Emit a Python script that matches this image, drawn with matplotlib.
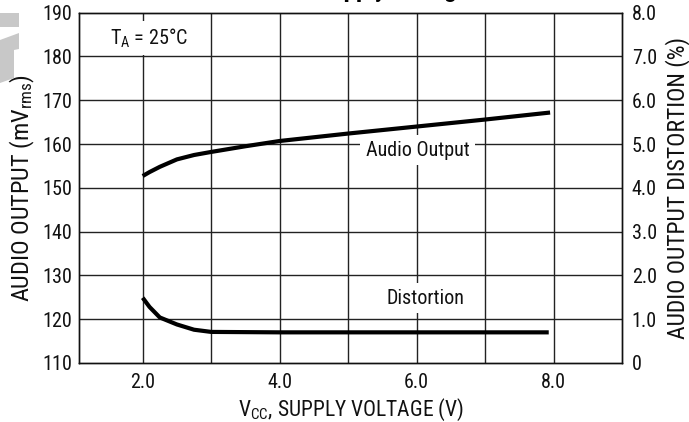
import matplotlib
matplotlib.use("Agg")
import matplotlib.pyplot as plt
from matplotlib import font_manager
from matplotlib.patches import Polygon, Rectangle

# pick a condensed face if one is installed
narrow_path = None
for f in font_manager.fontManager.ttflist:
    nm = f.name.lower()
    fn = f.fname.lower()
    if ('narrow' in nm or 'condensed' in nm or 'condensed' in fn or 'narrow' in fn) \
            and f.style == 'normal' and f.weight in (400, 'normal', 'regular'):
        narrow_path = f.fname
        if 'liberation' in nm:
            break

if narrow_path is not None:
    prop_name = font_manager.FontProperties(fname=narrow_path).get_name()
    plt.rcParams['font.family'] = [prop_name, 'DejaVu Sans']
    FS = 14.5
else:
    plt.rcParams['font.family'] = ['Liberation Sans', 'DejaVu Sans']
    FS = 12.5
plt.rcParams['mathtext.default'] = 'regular'

# Data
vcc_audio = [2.0, 2.1, 2.25, 2.5, 2.75, 3.0, 3.5, 4.0, 5.0, 6.0, 7.0, 7.95]
audio_output = [152.7, 153.6, 154.8, 156.5, 157.5, 158.2, 159.5, 160.7, 162.4, 164.0, 165.6, 167.2]
vcc_dist = [2.0, 2.1, 2.25, 2.5, 2.75, 3.0, 4.0, 6.0, 7.93]
distortion = [1.49, 1.28, 1.04, 0.88, 0.76, 0.71, 0.70, 0.70, 0.70]

x_ticks = [2.0, 4.0, 6.0, 8.0]
x_tick_labels = ["2.0", "4.0", "6.0", "8.0"]
x_grid = [2, 3, 4, 5, 6, 7, 8]
left_ticks = [110, 120, 130, 140, 150, 160, 170, 180, 190]
right_ticks = [0, 1, 2, 3, 4, 5, 6, 7, 8]
right_tick_labels = ["0", "1.0", "2.0", "3.0", "4.0", "5.0", "6.0", "7.0", "8.0"]

W, H = 689, 422
fig = plt.figure(figsize=(W / 100, H / 100), dpi=100)
ax = fig.add_axes([79 / W, 1 - 363 / H, (622 - 79) / W, (363 - 12.7) / H])
ax.set_xlim(1.07, 9.0)
ax.set_ylim(110, 190)

ax2 = ax.twinx()
ax2.set_ylim(0, 8)

# grid
for xv in x_grid:
    ax.axvline(xv, color='#222222', lw=1.0, zorder=1)
for yv in left_ticks[1:-1]:
    ax.axhline(yv, color='#222222', lw=1.0, zorder=1)

ax.set_xticks(x_ticks)
ax.set_xticklabels(x_tick_labels)
ax.set_yticks(left_ticks)
ax2.set_yticks(right_ticks)
ax2.set_yticklabels(right_tick_labels)

ax.tick_params(axis='both', length=0, labelsize=FS, colors='#111111')
ax.tick_params(axis='y', pad=5)
ax.tick_params(axis='x', pad=7)
ax2.tick_params(axis='y', length=0, labelsize=FS, pad=7, colors='#111111')

for a in (ax, ax2):
    for s in a.spines.values():
        s.set_color('#111111')
        s.set_linewidth(1.0)

ax.plot(vcc_audio, audio_output, color='black', lw=3.0, solid_capstyle='butt', zorder=3)
ax2.plot(vcc_dist, distortion, color='black', lw=3.0, solid_capstyle='butt', zorder=3)

box = dict(facecolor='white', edgecolor='none', pad=4)
ax.text(6.02, 158.6, "Audio Output", ha='center', va='center', fontsize=FS,
        color='#111111', bbox=box, zorder=4)
ax.text(6.13, 124.8, "Distortion", ha='center', va='center', fontsize=FS,
        color='#111111', bbox=box, zorder=4)
ax.text(2.1, 184.2, "T$_A$ = 25°C", ha='center', va='center', fontsize=FS,
        color='#111111', bbox=box, zorder=4)

ax.set_xlabel("V$_{CC}$, SUPPLY VOLTAGE (V)", fontsize=FS + 1, color='#111111', labelpad=4)
ax.set_ylabel("AUDIO OUTPUT (mV$_{rms}$)", fontsize=FS + 3, color='#111111', labelpad=4)
ax2.set_ylabel("AUDIO OUTPUT DISTORTION (%)", fontsize=FS + 2.5, color='#111111', labelpad=6)

# clipped title at top (only the bottoms of its letters show, as in the source)
fig.text(318 / W, 1 + 2.5 / H, "Supply Voltage", ha='left', va='baseline',
         fontsize=18, fontweight='bold', color='black')

# gray watermark fragment at left edge
fig.patches.append(Rectangle((0, 1 - 27 / H), 19 / W, 14 / H, transform=fig.transFigure,
                             facecolor='#c8c8c8', edgecolor='none'))
fig.patches.append(Polygon([(0, 1 - 40 / H), (19 / W, 1 - 33 / H), (19 / W, 1 - 49 / H),
                            (14 / W, 1 - 50 / H), (14 / W, 1 - 78 / H), (0, 1 - 83 / H)],
                           closed=True, transform=fig.transFigure,
                           facecolor='#c8c8c8', edgecolor='none'))

fig.savefig("out.png", dpi=100)
